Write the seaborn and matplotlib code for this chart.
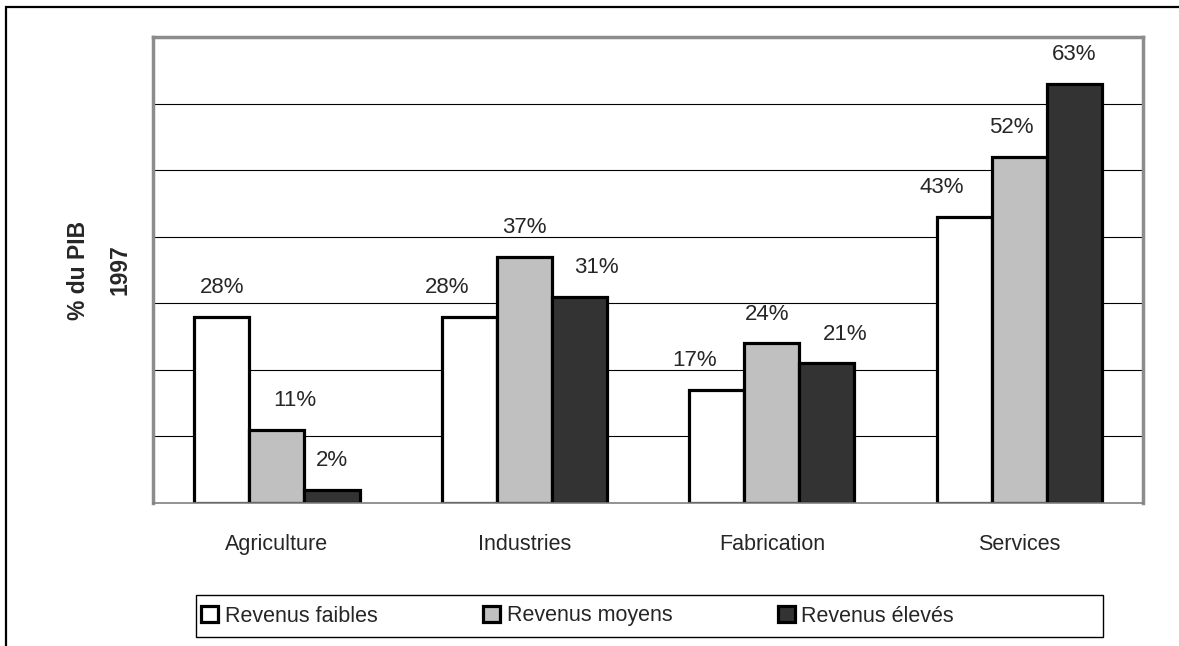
import numpy as np
import pandas as pd
import seaborn as sns
import matplotlib.pyplot as plt
from matplotlib.patches import Rectangle, Patch

secteurs = ["Agriculture", "Industries", "Fabrication", "Services"]
revenus = ["Revenus faibles", "Revenus moyens", "Revenus élevés"]
faibles = [28, 28, 17, 43]
moyens = [11, 37, 24, 52]
eleves = [2, 31, 21, 63]
couleurs = ["#FFFFFF", "#C0C0C0", "#333333"]

# horizontal shift of each value label (px), as Excel placed them
decalage = {
    "Revenus faibles": [0, -22, -22, -23],
    "Revenus moyens": [18, 0, -5, -8],
    "Revenus élevés": [0, 17, 18, 0],
}

df = pd.DataFrame({
    "secteur": secteurs * 3,
    "revenu": [r for r in revenus for _ in secteurs],
    "valeur": faibles + moyens + eleves,
})

sns.set_style("white")
plt.rcParams["font.family"] = ["Liberation Sans", "DejaVu Sans"]

W, H = 1179, 646
fig = plt.figure(figsize=(W / 100, H / 100), dpi=100)
ax = fig.add_axes([0.130, 0.2214, 0.8395, 0.7213])

sns.barplot(data=df, x="secteur", y="valeur", hue="revenu", hue_order=revenus,
            palette=couleurs, edgecolor="black", linewidth=2.3, width=0.667,
            saturation=1, ax=ax, legend=False)

ax.set_ylim(0, 70)
ax.set_xlim(-0.5, 3.5)
ax.set_yticks(range(10, 70, 10))
ax.set_yticklabels([])
ax.yaxis.grid(True, color="black", linewidth=0.8)
ax.set_axisbelow(True)
ax.tick_params(axis="y", length=0)

ax.set_xticks([-0.5, 0.5, 1.5, 2.5, 3.5], minor=True)
ax.set_xticks(range(4))
ax.set_xticklabels(secteurs, fontsize=15.5)
ax.tick_params(axis="x", which="major", length=0, pad=22)
ax.tick_params(axis="x", which="minor", length=7, width=1, color="#808080", direction="out")
ax.set_xlabel("")

for s in ["left", "top", "right"]:
    ax.spines[s].set_color("#8C8C8C")
    ax.spines[s].set_linewidth(2.5)
ax.spines["bottom"].set_color("#808080")
ax.spines["bottom"].set_linewidth(1.2)

ax.set_ylabel("% du PIB\n1997", fontsize=16.5, fontweight="bold", labelpad=12,
              linespacing=2.05)

for cont, rev in zip(ax.containers, revenus):
    for bar, dx in zip(cont, decalage[rev]):
        h = bar.get_height()
        ax.annotate(f"{int(h)}%", (bar.get_x() + bar.get_width() / 2, h),
                    xytext=(dx * 0.72, 21), textcoords="offset points",
                    ha="center", va="center", fontsize=16)

handles = [Patch(facecolor=c, edgecolor="black", linewidth=2.3) for c in couleurs]
fig.legend(handles, revenus, loc="center left",
           bbox_to_anchor=(201 / W, 1 - 616 / H),
           ncol=3, fontsize=15.5, frameon=False,
           handlelength=0.8, handleheight=0.8, handletextpad=0.3, columnspacing=4.9,
           borderpad=0, borderaxespad=0)
# legend box as drawn by Excel (wider than the text)
fig.patches.append(Rectangle((196 / W, 9 / H), 907 / W, 42 / H, transform=fig.transFigure,
                             fill=False, edgecolor="black", linewidth=1.0))

fig.patches.append(Rectangle((6 / W, -0.1), 1.2, 1.1 - 7 / H, transform=fig.transFigure,
                             fill=False, edgecolor="black", linewidth=1.6))

fig.savefig("out.png", dpi=100)
